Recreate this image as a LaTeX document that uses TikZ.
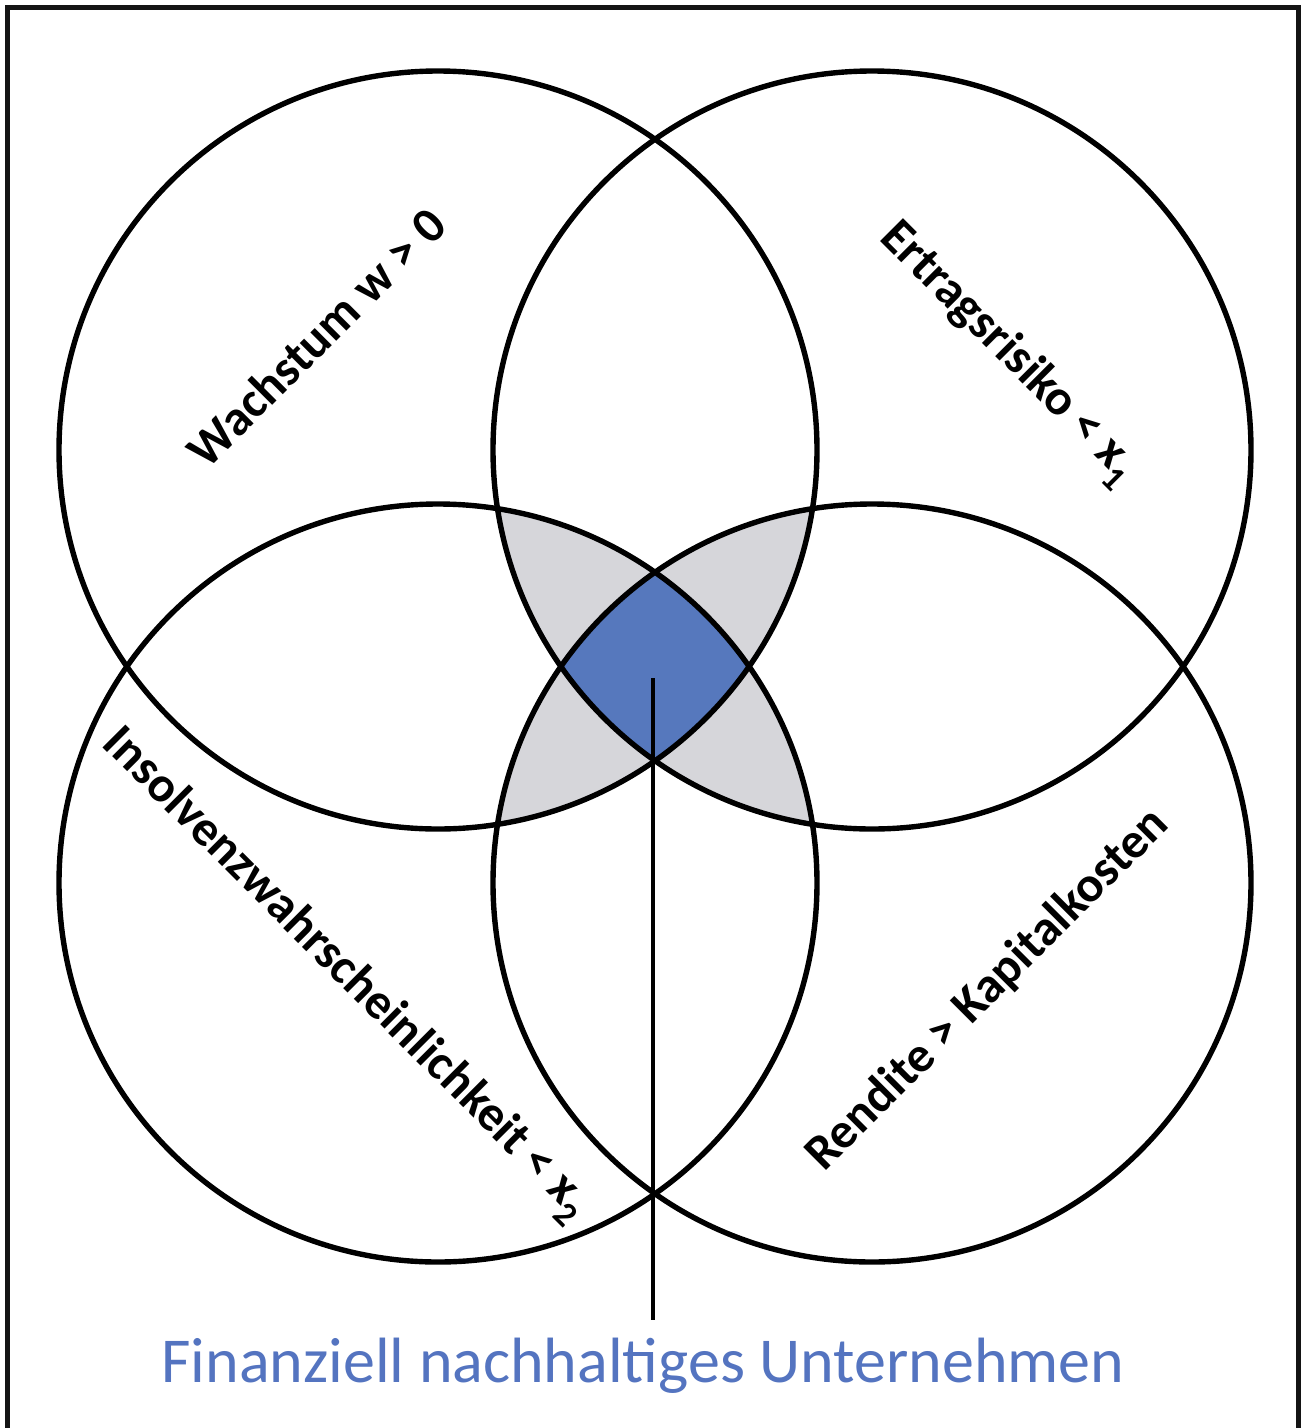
\documentclass[tikz,border=0pt]{standalone}
\usepackage{fontspec}
\setmainfont{Carlito}
\definecolor{grayfill}{RGB}{214,214,218}
\definecolor{bluefill}{RGB}{86,120,189}
\definecolor{bluetext}{RGB}{84,116,192}
\begin{document}
\begin{tikzpicture}[x=1pt,y=-1pt,
  ring/.style={draw=black,line width=5.4pt},
  lbl/.style={font=\bfseries\fontsize{50}{52}\selectfont,inner sep=0pt,text=black},
  frame/.style={draw=black!92,line width=5pt}]
\useasboundingbox (0,0) rectangle (1301,1428);
\fill[white] (0,0) rectangle (1301,1428);
\def\R{379}
\coordinate (TL) at (438,450);
\coordinate (TR) at (872,450);
\coordinate (BL) at (438,883);
\coordinate (BR) at (872,883);
% gray lenses (diagonal pairs)
\begin{scope}
  \clip (TL) circle (\R);
  \fill[grayfill] (BR) circle (\R);
\end{scope}
\begin{scope}
  \clip (TR) circle (\R);
  \fill[grayfill] (BL) circle (\R);
\end{scope}
% blue: all four
\begin{scope}
  \clip (TL) circle (\R);
  \clip (TR) circle (\R);
  \clip (BL) circle (\R);
  \fill[bluefill] (BR) circle (\R);
\end{scope}
% circles
\draw[ring] (TL) circle (\R);
\draw[ring] (TR) circle (\R);
\draw[ring] (BL) circle (\R);
\draw[ring] (BR) circle (\R);
% frame
\draw[frame] (7.5,1440) -- (7.5,7.5) -- (1298.5,7.5) -- (1298.5,1440);
% labels
\node[lbl,rotate=45] (wach) at (316,337) {Wachstum w > 0};
\node[lbl,rotate=-45] (ertr) at (1008,354) {Ertragsrisiko < x\textsubscript{1}};
\node[lbl,rotate=-45] (insol) at (345,975) {Insolvenzwahrscheinlichkeit < x\textsubscript{2}};
\node[lbl,rotate=45] (rend) at (988,990) {Rendite > Kapitalkosten};
% pointer and caption
\coordinate (ctr) at (653,678);
\coordinate (lineend) at (653,1320);
\draw[line width=4.5pt] (ctr) -- (lineend);
\node[font=\fontsize{64}{66}\selectfont,text=bluetext,inner sep=0pt] (cap) at (643,1366) {Finanziell nachhaltiges Unternehmen};
\end{tikzpicture}
\end{document}
